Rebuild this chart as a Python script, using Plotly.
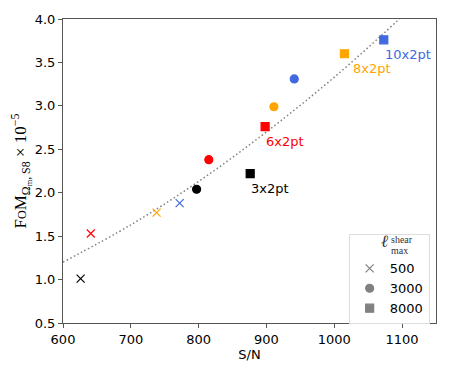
import plotly.graph_objects as go

# probes and colours
probes = ["3x2pt", "6x2pt", "8x2pt", "10x2pt"]
colors = ["black", "red", "orange", "royalblue"]

# S/N and FoM (x 1e-5) per ell_max^shear
sn_500 = [626, 641, 738, 772]
fom_500 = [1.01, 1.53, 1.77, 1.88]
sn_3000 = [797, 815, 911, 941]
fom_3000 = [2.04, 2.38, 2.99, 3.31]
sn_8000 = [876, 898, 1015, 1073]
fom_8000 = [2.22, 2.76, 3.60, 3.76]

# dotted trend curve
fit_sn = [600, 700, 800, 900, 1000, 1100, 1150]
fit_fom = [1.20, 1.63, 2.13, 2.70, 3.33, 4.03, 4.41]

lmax = ["500", "3000", "8000"]

fig = go.Figure()

fig.add_trace(go.Scatter(x=fit_sn, y=fit_fom, mode="lines",
                         line=dict(color="gray", dash="1.5px,2.5px", width=1.5, shape="spline"),
                         showlegend=False, hoverinfo="skip"))

for sn, fom, sym in [(sn_500, fom_500, "x-thin"), (sn_3000, fom_3000, "circle"), (sn_8000, fom_8000, "square")]:
    fig.add_trace(go.Scatter(x=sn, y=fom, mode="markers", showlegend=False,
                             marker=dict(symbol=sym, size=8, color=colors, line=dict(width=1.2, color=colors))))

# legend entries in gray
for name, sym in zip(lmax, ["x-thin", "circle", "square"]):
    fig.add_trace(go.Scatter(x=[None], y=[None], mode="markers", name=name,
                             marker=dict(symbol=sym, size=8, color="gray", line=dict(width=1.2, color="gray"))))

# probe labels next to the 8000 squares
for i, (p, c) in enumerate(zip(probes, colors)):
    fig.add_annotation(x=sn_8000[i], y=fom_8000[i], text=p, showarrow=False, xanchor="left", yanchor="top",
                       xshift=7 if p == "8x2pt" else -1, yshift=-5, font=dict(color=c, size=13))

# legend title pieces
fig.add_annotation(xref="paper", yref="paper", x=0.877, y=0.23, text="<i>ℓ</i>", showarrow=False,
                   font=dict(family="Liberation Serif", size=17, color="#333"), xanchor="right")
fig.add_annotation(xref="paper", yref="paper", x=0.874, y=0.251, text="shear", showarrow=False,
                   font=dict(family="Liberation Serif", size=10, color="#333"), xanchor="left")
fig.add_annotation(xref="paper", yref="paper", x=0.874, y=0.213, text="max", showarrow=False,
                   font=dict(family="Liberation Serif", size=10, color="#333"), xanchor="left")

axis = dict(showline=True, linecolor="#555", linewidth=1, mirror=True, ticks="outside", ticklen=4,
            tickcolor="#555", showgrid=False, zeroline=False, automargin=False,
            tickfont=dict(size=13, color="black"))

fig.update_xaxes(range=[600, 1150], dtick=100, title=dict(text="S/N", font=dict(size=13), standoff=2), **axis)
fig.update_yaxes(range=[0.5, 4.0], dtick=0.5, tickformat=".1f",
                 title=dict(text="F<span style='font-size:12px'>O</span>M<sub>Ω<sub>m</sub>, S8</sub> × 10<sup>−5</sup>",
                            font=dict(family="Liberation Serif", size=17), standoff=4), **axis)

# the page body adds 8px of offset, so margins are shifted to land the plot area where the reference has it
fig.update_layout(
    width=450, height=375,
    margin=dict(l=55, r=22, t=11, b=60),
    plot_bgcolor="white", paper_bgcolor="white",
    font=dict(family="DejaVu Sans", color="black"),
    legend=dict(x=0.983, y=-0.004, xanchor="right", yanchor="bottom", bgcolor="white",
                bordercolor="#ddd", borderwidth=1, font=dict(size=13),
                title=dict(text="<br> ", font=dict(size=7)), itemwidth=30, tracegroupgap=0),
)

fig.write_html("out.html")
